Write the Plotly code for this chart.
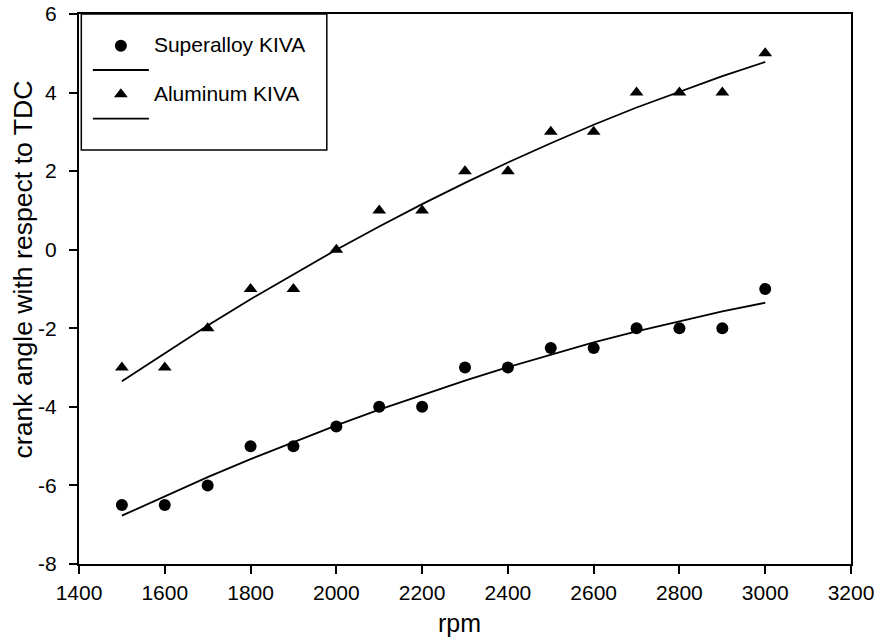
import plotly.graph_objects as go

rpm = [1500, 1600, 1700, 1800, 1900, 2000, 2100, 2200, 2300, 2400, 2500, 2600, 2700, 2800, 2900, 3000]
superalloy = [-6.5, -6.5, -6, -5, -5, -4.5, -4, -4, -3, -3, -2.5, -2.5, -2, -2, -2, -1]
aluminum = [-3, -3, -2, -1, -1, 0, 1, 1, 2, 2, 3, 3, 4, 4, 4, 5]
superalloy_fit = [-6.77, -6.27, -5.79, -5.33, -4.89, -4.47, -4.07, -3.69, -3.33, -2.99,
                  -2.67, -2.36, -2.08, -1.82, -1.57, -1.35]
aluminum_fit = [-3.35, -2.63, -1.93, -1.26, -0.62, 0.0, 0.59, 1.16, 1.70, 2.22,
                2.71, 3.18, 3.62, 4.03, 4.42, 4.78]
x_ticks = [1400, 1600, 1800, 2000, 2200, 2400, 2600, 2800, 3000, 3200]
y_ticks = [-8, -6, -4, -2, 0, 2, 4, 6]
y_tick_labels = ["-8", "-6", "-4", "-2", "0", "2", "4", "6"]

FONT = "Liberation Sans, Arial, sans-serif"


def big(label):
    return '<span style="font-size:21px">' + label + '</span>'


fig = go.Figure()
fig.add_trace(go.Scatter(x=rpm, y=superalloy, mode="markers", name=big("Superalloy KIVA"),
                         marker=dict(symbol="circle", size=12, color="black")))
fig.add_trace(go.Scatter(x=rpm, y=superalloy_fit, mode="lines", name=" ",
                         line=dict(color="black", width=1.8)))
fig.add_trace(go.Scatter(x=rpm, y=aluminum, mode="markers", name=big("Aluminum KIVA"),
                         marker=dict(symbol="triangle-up", size=12, color="black")))
fig.add_trace(go.Scatter(x=rpm, y=aluminum_fit, mode="lines", name="  ",
                         line=dict(color="black", width=1.8)))

# legend frame drawn as a shape (paper coordinates)
fig.add_shape(type="rect", xref="paper", yref="paper",
              x0=0.003, x1=0.321, y0=0.7527, y1=1.0,
              line=dict(color="black", width=1.5), fillcolor="rgba(0,0,0,0)", layer="above")

# axis titles as annotations (placed like the reference)
fig.add_annotation(text="rpm", xref="paper", yref="paper", x=0.4935, y=-0.1073,
                   xanchor="center", yanchor="middle", showarrow=False,
                   font=dict(size=25, family=FONT, color="black"))
fig.add_annotation(text="crank angle with respect to TDC", xref="paper", yref="paper",
                   x=-0.0725, y=0.5355, xanchor="center", yanchor="middle",
                   textangle=-90, showarrow=False,
                   font=dict(size=26.6, family=FONT, color="black"))

fig.update_layout(
    width=880, height=641,
    margin=dict(l=79, r=29, t=14, b=77),
    paper_bgcolor="white", plot_bgcolor="white",
    font=dict(family=FONT, size=21, color="black"),
    showlegend=True,
    legend=dict(x=0.0115, y=0.9736, xanchor="left", yanchor="top",
                bgcolor="rgba(0,0,0,0)", borderwidth=0,
                font=dict(size=16.4), itemwidth=56,
                tracegroupgap=0),
    xaxis=dict(range=[1400, 3200], tickvals=x_ticks, ticks="outside", ticklen=8,
               tickcolor="black", tickwidth=1.5, showline=True, linecolor="black", linewidth=2,
               mirror=True, showgrid=False, zeroline=False, automargin=False,
               ticklabelstandoff=1, tickfont=dict(size=21)),
    yaxis=dict(range=[-8, 6], tickvals=y_ticks, ticktext=y_tick_labels, ticks="outside", ticklen=8,
               tickcolor="black", tickwidth=1.5, showline=True, linecolor="black", linewidth=2,
               mirror=True, showgrid=False, zeroline=False, automargin=False,
               ticklabelstandoff=8, tickfont=dict(size=21)),
)

fig.write_html("out.html", config={"displayModeBar": False},
               post_script="document.body.style.margin='0';")
